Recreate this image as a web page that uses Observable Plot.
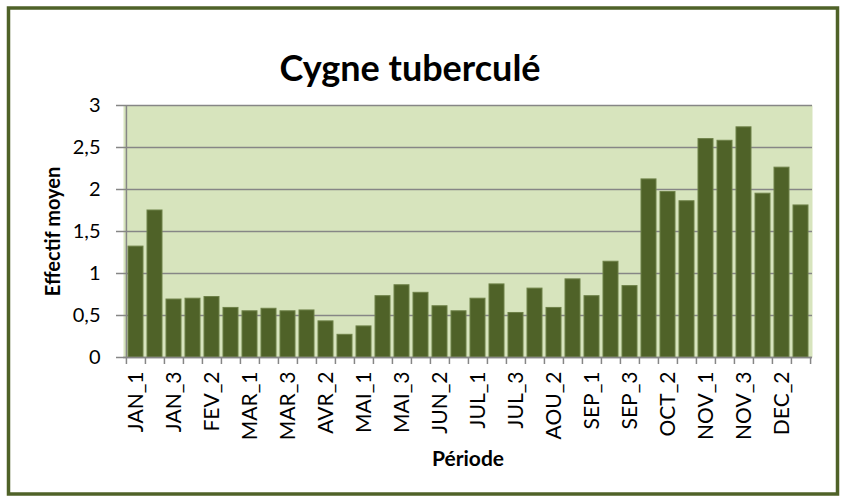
<!DOCTYPE html>
<html>
<head>
<meta charset="utf-8">
<script src="https://cdn.jsdelivr.net/npm/d3@7"></script>
<script src="https://cdn.jsdelivr.net/npm/@observablehq/plot@0.6"></script>
<style>
  html, body { margin: 0; padding: 0; background: #fff; }
  svg { display: block; }
</style>
</head>
<body>
<div id="chart"></div>
<script>
const periods = [
  "JAN_1","JAN_2","JAN_3","FEV_1","FEV_2","FEV_3",
  "MAR_1","MAR_2","MAR_3","AVR_1","AVR_2","AVR_3",
  "MAI_1","MAI_2","MAI_3","JUN_1","JUN_2","JUN_3",
  "JUL_1","JUL_2","JUL_3","AOU_1","AOU_2","AOU_3",
  "SEP_1","SEP_2","SEP_3","OCT_1","OCT_2","OCT_3",
  "NOV_1","NOV_2","NOV_3","DEC_1","DEC_2","DEC_3"
];
const values = [
  1.32, 1.75, 0.69, 0.70, 0.72, 0.59,
  0.55, 0.58, 0.55, 0.56, 0.43, 0.27,
  0.37, 0.73, 0.86, 0.77, 0.61, 0.55,
  0.70, 0.87, 0.53, 0.82, 0.59, 0.93,
  0.73, 1.14, 0.85, 2.12, 1.97, 1.86,
  2.60, 2.58, 2.74, 1.95, 2.26, 1.81
];
const yTicks = [0, 0.5, 1, 1.5, 2, 2.5, 3];
const labeledPeriods = periods.filter((d, i) => i % 2 === 0);
const firstPeriod = [periods[0]];
const lastPeriod = [periods[periods.length - 1]];
const titleText = "Cygne tuberculé";
const yLabel = "Effectif moyen";
const xLabel = "Période";

const data = periods.map((p, i) => ({period: p, value: values[i]}));

const W = 842, H = 501;
const mL = 123, mR = 30, mT = 105, mB = 144;
const step = (W - mL - mR) / periods.length;
const grey = "#868686";
const font = "Lato, 'Open Sans', sans-serif";

const chart = Plot.plot({
  width: W,
  height: H,
  marginLeft: mL,
  marginRight: mR,
  marginTop: mT,
  marginBottom: mB,
  style: {fontFamily: font, fontSize: "20px", color: "#000", background: "#fff"},
  x: {domain: periods, paddingInner: 0.23, paddingOuter: 0.115, axis: null},
  y: {domain: [0, 3], axis: null},
  marks: [
    Plot.frame({fill: "#D7E4BD", stroke: null}),
    Plot.gridY(yTicks, {stroke: grey, strokeOpacity: 1, strokeWidth: 1.5}),
    Plot.barY(data, {x: "period", y: "value", fill: "#4F6228", stroke: "#6E8148", strokeWidth: 1}),
    Plot.ruleX(firstPeriod, {dx: -step / 2, stroke: grey, strokeWidth: 1.5}),
    Plot.axisY({ticks: yTicks, tickSize: 7, tickPadding: 16, stroke: grey, strokeWidth: 1.5,
      tickFormat: d => String(d).replace(".", ","), fontSize: 20, label: null, anchor: "left"}),
    Plot.axisX({ticks: labeledPeriods, tickSize: 0, tickPadding: 14, tickRotate: -90,
      fontSize: 21, label: null, anchor: "bottom"}),
    Plot.axisX({ticks: periods, tickSize: 7, tickFormat: () => "", dx: -step / 2,
      stroke: grey, strokeWidth: 1.5, label: null, anchor: "bottom"}),
    Plot.axisX({ticks: lastPeriod, tickSize: 7, tickFormat: () => "", dx: step / 2,
      stroke: grey, strokeWidth: 1.5, label: null, anchor: "bottom"}),
    Plot.ruleY([0], {stroke: grey, strokeWidth: 1.5}),
    Plot.text([titleText], {frameAnchor: "top", dx: -58, dy: -50, fontSize: 36,
      fontWeight: "bold", textAnchor: "middle", fill: "#000"}),
    Plot.text([yLabel], {frameAnchor: "left", dx: -70, rotate: -90, fontSize: 20,
      fontWeight: "bold", textAnchor: "middle", fill: "#000"}),
    Plot.text([xLabel], {frameAnchor: "bottom", dy: 108, fontSize: 21,
      fontWeight: "bold", textAnchor: "middle", fill: "#000"})
  ]
});

d3.select(chart).append("rect")
  .attr("x", 8.5).attr("y", 8)
  .attr("width", 829).attr("height", 486)
  .attr("fill", "none")
  .attr("stroke", "#4F6228")
  .attr("stroke-width", 3.5);

document.getElementById("chart").appendChild(chart);
</script>
</body>
</html>
